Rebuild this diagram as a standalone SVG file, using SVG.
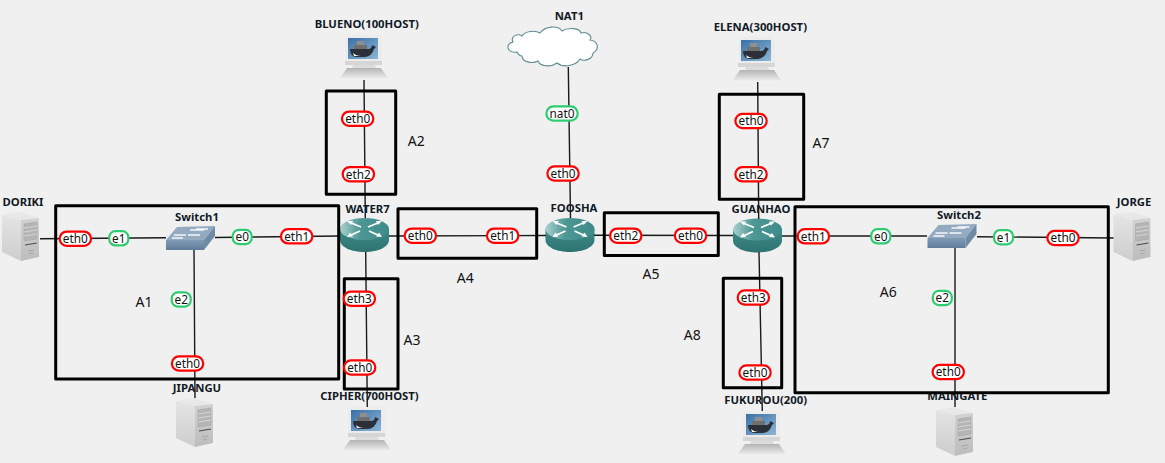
<svg xmlns="http://www.w3.org/2000/svg" width="1165" height="463" viewBox="0 0 1165 463">
<style>
text{font-family:"Noto Sans","Open Sans","DejaVu Sans",sans-serif}
.n{font-size:11.3px;font-weight:700;fill:#111a26;text-anchor:middle}
.a{font-size:14px;fill:#111;text-anchor:middle}
.i{font-size:11.8px;fill:#111;text-anchor:middle}
.r{fill:#fff;stroke:#f00;stroke-width:2.2}
.g{fill:#fff;stroke:#2ecc71;stroke-width:2.2}
.l{stroke:#1a1a1a;stroke-width:1.4;fill:none}
.b{stroke:#000;stroke-width:3;fill:none;stroke-linejoin:round}
</style>
<defs>
<linearGradient id="sl" x1="0" y1="0" x2="0" y2="1"><stop offset="0" stop-color="#e4e4e4"/><stop offset="1" stop-color="#cdcdcd"/></linearGradient>
<linearGradient id="sf" x1="0" y1="0" x2="0" y2="1"><stop offset="0" stop-color="#d2d2d2"/><stop offset="1" stop-color="#bdbdbd"/></linearGradient>
<linearGradient id="lg" x1="0" y1="0" x2="0" y2="1"><stop offset="0" stop-color="#b4b4b4"/><stop offset="1" stop-color="#f4f4f4"/></linearGradient>
<linearGradient id="scr" x1="0" y1="0" x2="1" y2="1"><stop offset="0" stop-color="#3a70a5"/><stop offset="1" stop-color="#8bb6d6"/></linearGradient>
<linearGradient id="rt" x1="0" y1="0" x2="1" y2="0"><stop offset="0" stop-color="#a9d0cf"/><stop offset=".4" stop-color="#4d9795"/><stop offset="1" stop-color="#3d8b89"/></linearGradient>
<linearGradient id="rb" x1="0" y1="0" x2="0" y2="1"><stop offset="0" stop-color="#3d8b89"/><stop offset="1" stop-color="#2e7371"/></linearGradient>
<linearGradient id="sw" x1="0" y1="0" x2="0" y2="1"><stop offset="0" stop-color="#7f9ab5"/><stop offset="1" stop-color="#5f7d9b"/></linearGradient>
<g id="server">
<path d="M0 3 L18 0 L37 6 L19 8Z" fill="#e8e8e8"/>
<path d="M0 3 L19 8 V49 L0 40Z" fill="url(#sl)"/>
<path d="M19 8 L37 6 V45 L19 49Z" fill="url(#sf)"/>
<path d="M22 12 L35 10 V27 L22 29Z" fill="#b5b5b5" stroke="#a0a0a0" stroke-width=".5"/>
<path d="M22 16 L35 14 M22 20 L35 18 M22 24 L35 22" stroke="#dcdcdc" stroke-width=".8"/>
<path d="M23 33 L35 31" stroke="#4d4d4d" stroke-width="1.2"/>
<path d="M26 39 L32 38 M27 42 L31 41" stroke="#a0a0a0" stroke-width=".8"/>
</g>
<g id="host">
<rect x="5" y="0" width="37" height="30" rx="2" fill="#ececec"/>
<rect x="5" y="26" width="37" height="4" fill="#d6d6d6"/>
<rect x="8" y="3" width="30" height="21" fill="url(#scr)"/>
<path d="M10 14 H29 Q32 13 32 10 L36 12 L34 14 Q32 21 25 22 H16 Q10 21 10 14Z" fill="#2c2f38"/>
<path d="M13 18 Q16 21 21 21 L14 21Z" fill="#fff"/>
<rect x="14" y="10" width="13" height="4" fill="#6f6f6f"/>
<rect x="17" y="6" width="7" height="4" fill="#8f8f8f"/>
<path d="M13 30 H35 L36 33 H12Z" fill="#dcdcdc"/>
<path d="M7 33 H41 L48 43 Q48 45 46 45 H2 Q0 45 0 43Z" fill="url(#lg)"/>
</g>
<g id="router">
<path d="M0 11 V22 C0 29 11 34 24.500 34 S49 29 49 22 V11Z" fill="url(#rb)"/>
<ellipse cx="24.500" cy="11" rx="24.500" ry="11" fill="url(#rt)"/>
<path d="M10 4.500 L21 9 M39 4.500 L28 9 M20 13 L10 17.500 M29 13 L39 17.500" stroke="#fff" stroke-width="1.800"/>
<path d="M7 3 L13 3 L11 7Z M42 3 L36 3 L38 7Z M7 19 L10 14.500 L13 18.500Z M42 19 L39 14.500 L36 18.500Z" fill="#fff"/>
</g>
<g id="switch">
<path d="M0 14 L11 1 L49 0 L38 14Z" fill="#94aac0"/>
<rect x="0" y="14" width="38" height="10" fill="url(#sw)"/>
<path d="M38 14 L49 0 V10 L38 24Z" fill="#6f8aa5"/>
<path d="M8 9 H20 M17 12 H6 M24 4 H38 M42 3 H30 M34 9 H22" stroke="#f2f6fa" stroke-width="1.500"/>
</g>
</defs>
<rect width="1165" height="463" fill="#f0f0f0"/>
<g id="nodes">
<g id="DORIKI"><use href="#server" x="2" y="212"/><text class="n" x="23" y="206">DORIKI</text></g>
<g id="JIPANGU"><use href="#server" x="176" y="398"/><text class="n" x="197" y="392">JIPANGU</text></g>
<g id="JORGE"><use href="#server" x="1113.500" y="212"/><text class="n" x="1134" y="206">JORGE</text></g>
<g id="MAINGATE"><use href="#server" x="936" y="407"/><text class="n" x="957.300" y="400">MAINGATE</text></g>
<g id="BLUENO"><use href="#host" x="340" y="35"/><text class="n" x="366.700" y="28.300">BLUENO(100HOST)</text></g>
<g id="CIPHER"><use href="#host" x="343" y="407"/><text class="n" x="369.500" y="400">CIPHER(700HOST)</text></g>
<g id="ELENA"><use href="#host" x="733" y="37"/><text class="n" x="760.300" y="31">ELENA(300HOST)</text></g>
<g id="FUKUROU"><use href="#host" x="738" y="411"/><text class="n" x="765.700" y="404.300">FUKUROU(200)</text></g>
<g id="WATER7"><use href="#router" x="340" y="218"/><text class="n" x="367.500" y="213">WATER7</text></g>
<g id="FOOSHA"><use href="#router" x="545.500" y="218"/><text class="n" x="574" y="211.700">FOOSHA</text></g>
<g id="GUANHAO"><use href="#router" x="733" y="218.500"/><text class="n" x="761" y="212.700">GUANHAO</text></g>
<g id="Switch1"><use href="#switch" x="166" y="226"/><text class="n" x="197" y="220.700">Switch1</text></g>
<g id="Switch2"><use href="#switch" x="927.500" y="224"/><text class="n" x="959" y="218.700">Switch2</text></g>
<g id="NAT1"><path d="M517 52 C508 54 504 44 513 42 C510 36 518 33 522 36 C525 31 535 30 540 33 C545 26 558 25 562 31 C568 27 580 28 581 33 C587 31 593 36 590 40 C598 41 600 49 593 53 C593 59 584 62 580 59 C576 66 563 68 557 63 C550 68 540 66 538 61 C532 64 522 62 522 56 C520 56 518 54 517 52Z" fill="#fff" stroke="#5f8d92" stroke-width="1.100"/><text class="n" x="569.300" y="20">NAT1</text></g>
</g>
<g id="connectors">
<path class="l" d="M40 238.700 L166 237.700 M215 237.500 L340 236 M389 236 L546 235.500 M594 235.300 L733 235.500 M782 236 L927 236 M977 236.700 L1113.500 238"/>
<path class="l" d="M194 250 L195 398 M364 80 L365.300 218 M365.700 252 L367.300 407 M568.300 67 L570.500 218 M757.700 82 L758.700 219 M759 252 L762.300 411 M955 248 V407"/>
</g>
<g id="areas">
<rect class="b" x="55.700" y="205.700" width="283" height="173.300"/>
<rect class="b" x="326.300" y="91" width="69.400" height="103.300"/>
<rect class="b" x="344.300" y="278.700" width="53.700" height="110.300"/>
<rect class="b" x="398" y="208.700" width="138.700" height="49.600"/>
<rect class="b" x="604.300" y="212.700" width="114" height="42.700"/>
<rect class="b" x="795" y="206.700" width="313.300" height="186"/>
<rect class="b" x="719.300" y="94.300" width="84.400" height="105"/>
<rect class="b" x="723.300" y="278.300" width="58.400" height="109.400"/>
<text class="a" x="144" y="307">A1</text>
<text class="a" x="416.300" y="145.700">A2</text>
<text class="a" x="412" y="345">A3</text>
<text class="a" x="465.300" y="282.700">A4</text>
<text class="a" x="651" y="279">A5</text>
<text class="a" x="888.300" y="296.700">A6</text>
<text class="a" x="821" y="148.300">A7</text>
<text class="a" x="692.300" y="340">A8</text>
</g>
<g id="interfaces">
<rect class="r" x="59.700" y="231.600" width="31.300" height="14.200" rx="7"/><text class="i" x="75.300" y="243">eth0</text>
<rect class="g" x="109.300" y="231.200" width="19" height="14.200" rx="6"/><text class="i" x="118.800" y="242.600">e1</text>
<rect class="g" x="232.700" y="229.900" width="19" height="14.200" rx="6"/><text class="i" x="242.200" y="241.300">e0</text>
<rect class="r" x="281" y="229.200" width="31.300" height="14.200" rx="7"/><text class="i" x="296.700" y="240.600">eth1</text>
<rect class="g" x="171.700" y="292.400" width="19" height="14.200" rx="6"/><text class="i" x="181.200" y="303.800">e2</text>
<rect class="r" x="171.900" y="356.400" width="31.300" height="14.200" rx="7"/><text class="i" x="187.500" y="367.800">eth0</text>
<rect class="r" x="343.700" y="291.600" width="31.300" height="14.200" rx="7"/><text class="i" x="359.300" y="303">eth3</text>
<rect class="r" x="344" y="360.400" width="31.300" height="14.200" rx="7"/><text class="i" x="359.700" y="371.800">eth0</text>
<rect class="r" x="342" y="111.600" width="31.300" height="14.200" rx="7"/><text class="i" x="357.700" y="123">eth0</text>
<rect class="r" x="342.700" y="167.100" width="31.300" height="14.200" rx="7"/><text class="i" x="358.300" y="178.500">eth2</text>
<rect class="g" x="546.400" y="106.400" width="31.300" height="14.200" rx="7"/><text class="i" x="562" y="117.800">nat0</text>
<rect class="r" x="547.400" y="166.400" width="31.300" height="14.200" rx="7"/><text class="i" x="563" y="177.800">eth0</text>
<rect class="r" x="404.700" y="228.600" width="31.300" height="14.200" rx="7"/><text class="i" x="420.300" y="240">eth0</text>
<rect class="r" x="487" y="228.600" width="31.300" height="14.200" rx="7"/><text class="i" x="502.700" y="240">eth1</text>
<rect class="r" x="610.100" y="228.600" width="31.300" height="14.200" rx="7"/><text class="i" x="625.800" y="240">eth2</text>
<rect class="r" x="674.900" y="228.600" width="31.300" height="14.200" rx="7"/><text class="i" x="690.500" y="240">eth0</text>
<rect class="r" x="735.400" y="113.900" width="31.300" height="14.200" rx="7"/><text class="i" x="751" y="125.300">eth0</text>
<rect class="r" x="735.400" y="167.200" width="31.300" height="14.200" rx="7"/><text class="i" x="751" y="178.600">eth2</text>
<rect class="r" x="737.700" y="290.400" width="31.300" height="14.200" rx="7"/><text class="i" x="753.300" y="301.800">eth3</text>
<rect class="r" x="739.400" y="365.400" width="31.300" height="14.200" rx="7"/><text class="i" x="755" y="376.800">eth0</text>
<rect class="r" x="797.700" y="229.200" width="31.300" height="14.200" rx="7"/><text class="i" x="813.300" y="240.600">eth1</text>
<rect class="g" x="871.300" y="229.200" width="19" height="14.200" rx="6"/><text class="i" x="880.800" y="240.600">e0</text>
<rect class="g" x="994" y="230.100" width="19" height="14.200" rx="6"/><text class="i" x="1003.500" y="241.500">e1</text>
<rect class="r" x="1047.400" y="230.900" width="31.300" height="14.200" rx="7"/><text class="i" x="1063" y="242.300">eth0</text>
<rect class="g" x="932.800" y="290.900" width="19" height="14.200" rx="6"/><text class="i" x="942.300" y="302.300">e2</text>
<rect class="r" x="932.600" y="364.900" width="31.300" height="14.200" rx="7"/><text class="i" x="948.200" y="376.300">eth0</text>
</g>
</svg>
